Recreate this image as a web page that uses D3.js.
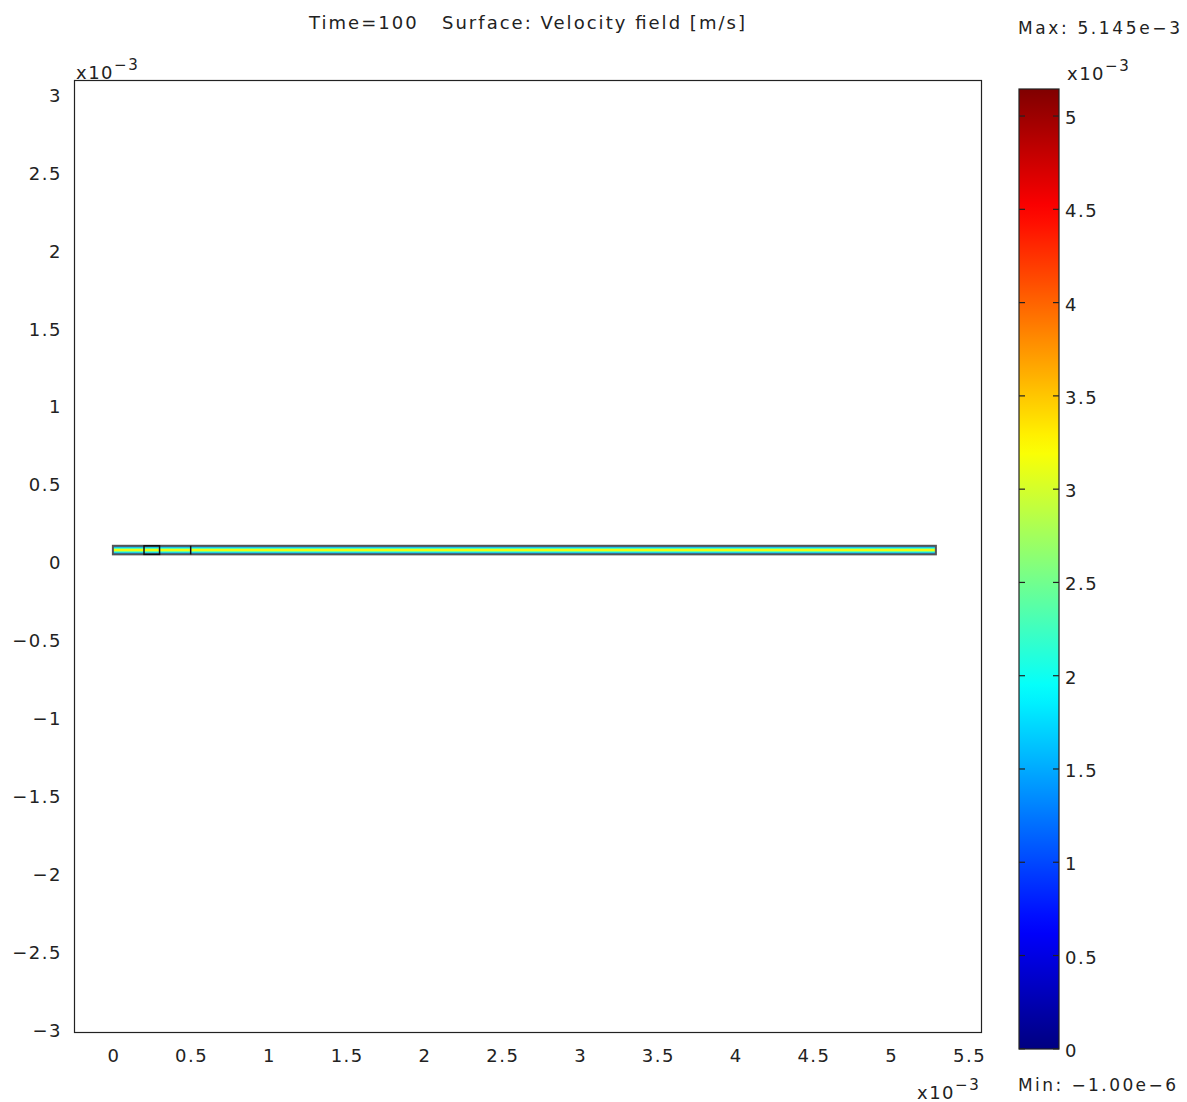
<!DOCTYPE html>
<html>
<head>
<meta charset="utf-8">
<script src="https://cdn.jsdelivr.net/npm/d3@7"></script>
<style>
  body { margin: 0; background: #fff; }
  text { font-family: "DejaVu Sans", sans-serif; fill: #222; }
</style>
</head>
<body>
<div id="chart"></div>
<script>
// axis ticks (units of 1e-3 m)
var xTicks = [0, 0.5, 1, 1.5, 2, 2.5, 3, 3.5, 4, 4.5, 5, 5.5];
var yTicks = [3, 2.5, 2, 1.5, 1, 0.5, 0, -0.5, -1, -1.5, -2, -2.5, -3];
var xExtent = [-0.25, 5.58];
var yExtent = [-3.005, 3.1];

// channel geometry (1e-3 m)
var channel = {x0: 0, x1: 5.29, y0: 0.058, y1: 0.113};
var innerBox = {x0: 0.2, x1: 0.3};
var innerLines = [0.5];

// velocity across channel height, bottom -> top (1e-3 m/s)
var profilePos = [0, 0.15, 0.3, 0.42, 0.5, 0.58, 0.7, 0.85, 1];
var profileVal = [1.2, 1.5, 2.3, 3.1, 3.3, 3.1, 2.3, 1.5, 1.2];

// colour bar
var cbTicks = [0, 0.5, 1, 1.5, 2, 2.5, 3, 3.5, 4, 4.5, 5];
var vMin = -0.001, vMax = 5.145;

var W = 1187, H = 1102;
var svg = d3.select("#chart").append("svg")
  .attr("width", W).attr("height", H);

function jet(t) {
  t = Math.max(0, Math.min(1, t));
  var c = function(v) { return Math.round(255 * Math.max(0, Math.min(1, v))); };
  return d3.rgb(c(1.5 - Math.abs(4 * t - 3)), c(1.5 - Math.abs(4 * t - 2)), c(1.5 - Math.abs(4 * t - 1))).toString();
}
var colorOf = function(v) { return jet((v - vMin) / (vMax - vMin)); };

var x = d3.scaleLinear().domain(xExtent).range([74, 981]);
var y = d3.scaleLinear().domain(yExtent).range([1032, 80]);

var defs = svg.append("defs");

// channel gradient (vertical)
var g1 = defs.append("linearGradient").attr("id", "prof")
  .attr("x1", 0).attr("y1", 1).attr("x2", 0).attr("y2", 0);
profilePos.forEach(function(p, i) {
  g1.append("stop").attr("offset", p).attr("stop-color", colorOf(profileVal[i]));
});

// title
svg.append("text").attr("x", 309).attr("y", 29)
  .style("font-size", "18px")
  .attr("xml:space", "preserve")
  .attr("textLength", 436).attr("lengthAdjust", "spacing")
  .text("Time=100   Surface: Velocity field [m/s]");

// frame
svg.append("rect")
  .attr("x", x(xExtent[0]) + 0.5).attr("y", y(yExtent[1]) + 0.5)
  .attr("width", x(xExtent[1]) - x(xExtent[0]))
  .attr("height", y(yExtent[0]) - y(yExtent[1]))
  .attr("fill", "none").attr("stroke", "#222").attr("stroke-width", 1.2);

// x tick labels
svg.append("g").selectAll("text").data(xTicks).enter().append("text")
  .attr("x", function(d) { return x(d) + 1; })
  .attr("y", 1062)
  .attr("text-anchor", "middle")
  .style("font-size", "18px").style("letter-spacing", "1.5px")
  .text(function(d) { return d; });

// y tick labels
svg.append("g").selectAll("text").data(yTicks).enter().append("text")
  .attr("x", 62)
  .attr("y", function(d) { return y(d) + 6; })
  .attr("text-anchor", "end")
  .style("font-size", "18px").style("letter-spacing", "1.5px")
  .text(function(d) { return d < 0 ? "\u2212" + Math.abs(d) : d; });

function expLabel(g, xx, yy) {
  var t = g.append("text").attr("x", xx).attr("y", yy).style("font-size", "18px").style("letter-spacing", "1.5px");
  t.append("tspan").text("x10");
  t.append("tspan").attr("dy", -9).style("font-size", "15px").text("\u22123");
}
expLabel(svg, 76, 79);
expLabel(svg, 917, 1099);

// channel
svg.append("rect")
  .attr("x", x(channel.x0)).attr("y", y(channel.y1))
  .attr("width", x(channel.x1) - x(channel.x0))
  .attr("height", y(channel.y0) - y(channel.y1))
  .attr("fill", "url(#prof)")
  .attr("stroke", "#555").attr("stroke-width", 2);

svg.append("rect")
  .attr("x", x(innerBox.x0)).attr("y", y(channel.y1))
  .attr("width", x(innerBox.x1) - x(innerBox.x0))
  .attr("height", y(channel.y0) - y(channel.y1))
  .attr("fill", "none").attr("stroke", "#111").attr("stroke-width", 1.5);

svg.append("g").selectAll("line").data(innerLines).enter().append("line")
  .attr("x1", function(d) { return x(d); }).attr("x2", function(d) { return x(d); })
  .attr("y1", y(channel.y1)).attr("y2", y(channel.y0))
  .attr("stroke", "#111").attr("stroke-width", 1.5);

// colour bar
var cb = d3.scaleLinear().domain([vMin, vMax]).range([1049, 89]);
var g2 = defs.append("linearGradient").attr("id", "jet")
  .attr("x1", 0).attr("y1", 1).attr("x2", 0).attr("y2", 0);
d3.range(0, 1.0001, 0.02).forEach(function(t) {
  g2.append("stop").attr("offset", t).attr("stop-color", jet(t));
});
var cbX = 1019, cbW = 40;
svg.append("rect")
  .attr("x", cbX).attr("y", cb(vMax))
  .attr("width", cbW).attr("height", cb(vMin) - cb(vMax))
  .attr("fill", "url(#jet)").attr("stroke", "#222").attr("stroke-width", 1.2);

var cbt = svg.append("g").selectAll("g").data(cbTicks).enter().append("g");
cbt.append("line")
  .attr("x1", cbX).attr("x2", cbX + 6)
  .attr("y1", function(d) { return cb(d); }).attr("y2", function(d) { return cb(d); })
  .attr("stroke", "#222").attr("stroke-width", 1.2);
cbt.append("line")
  .attr("x1", cbX + cbW - 6).attr("x2", cbX + cbW)
  .attr("y1", function(d) { return cb(d); }).attr("y2", function(d) { return cb(d); })
  .attr("stroke", "#222").attr("stroke-width", 1.2);
cbt.append("text")
  .attr("x", cbX + cbW + 6)
  .attr("y", function(d) { return cb(d) + 8; })
  .style("font-size", "18px").style("letter-spacing", "1.5px")
  .text(function(d) { return d; });

expLabel(svg, 1067, 80);
svg.append("text").attr("x", 1018).attr("y", 34).style("font-size", "17px")
  .attr("textLength", 162).attr("lengthAdjust", "spacing").text("Max: 5.145e\u22123");
svg.append("text").attr("x", 1018).attr("y", 1091).style("font-size", "17px")
  .attr("textLength", 158).attr("lengthAdjust", "spacing").text("Min: \u22121.00e\u22126");
</script>
</body>
</html>
